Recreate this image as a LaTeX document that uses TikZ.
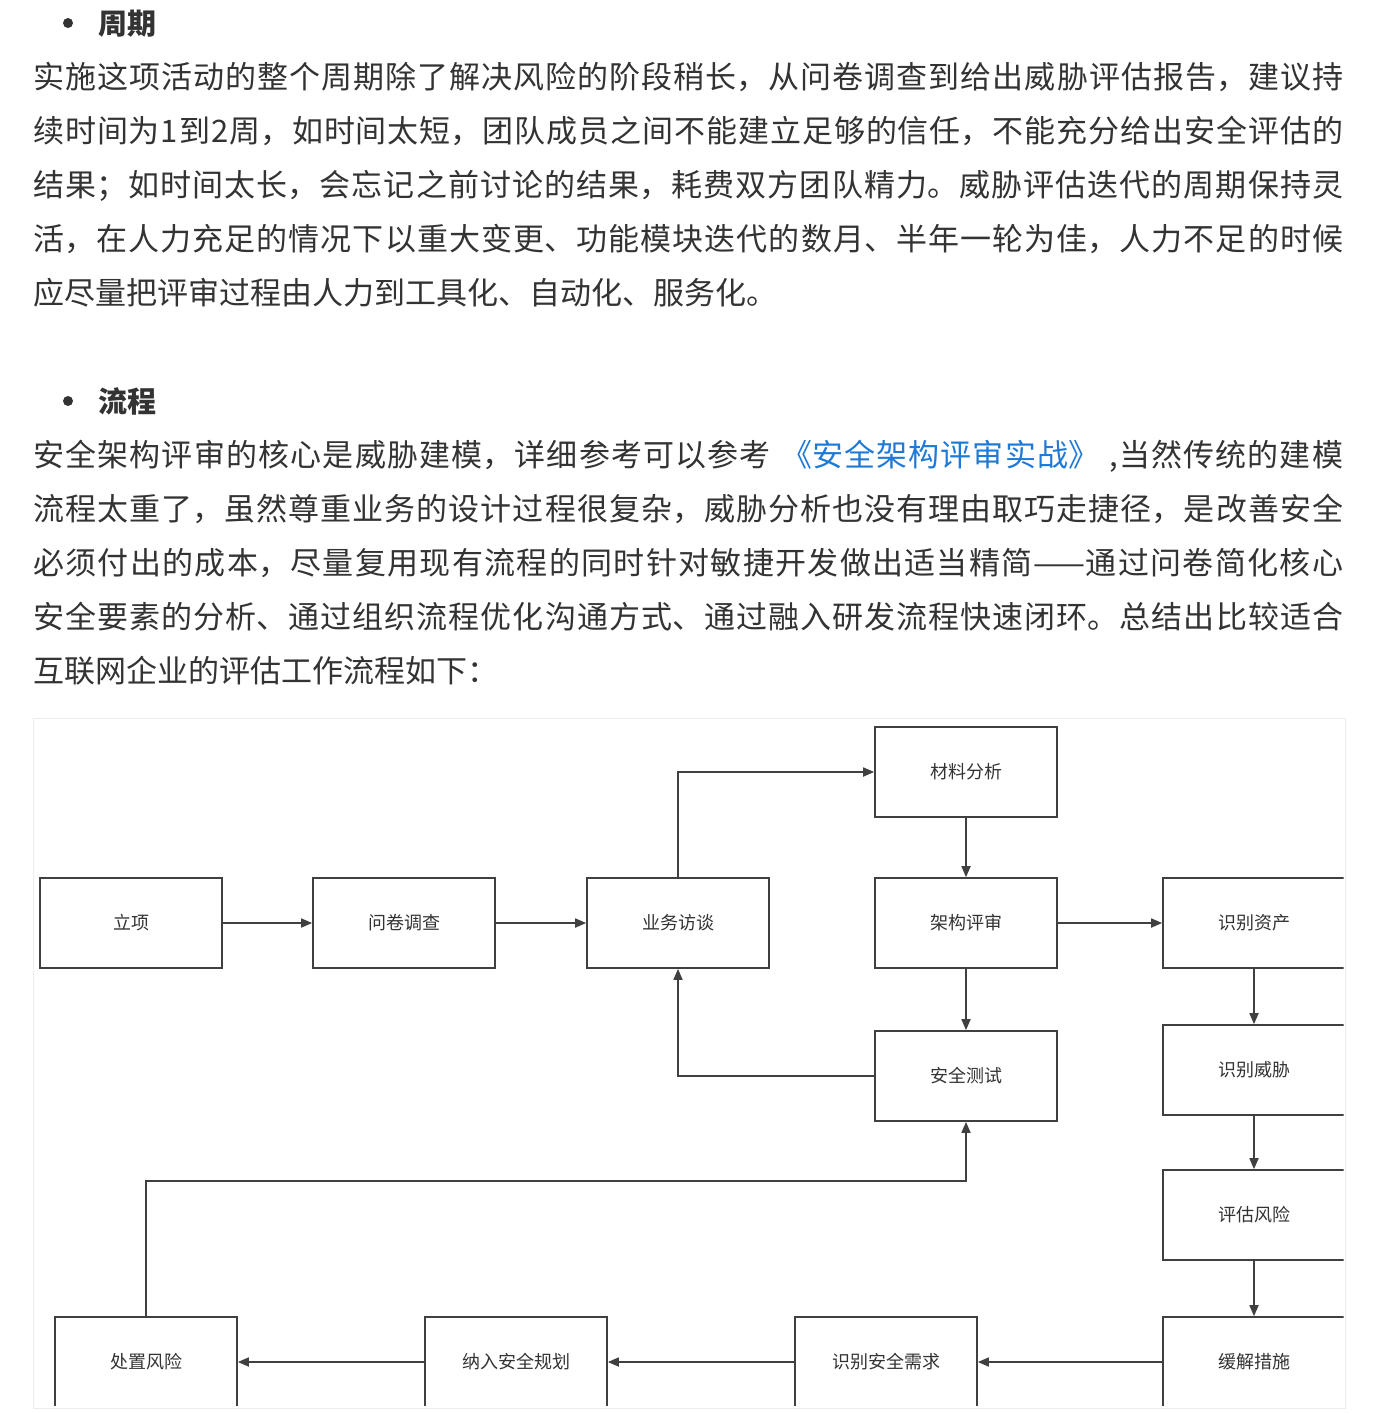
\documentclass[tikz,border=0pt]{standalone}
\usepackage{fontspec}
\setmainfont{Noto Sans CJK SC}
\XeTeXlinebreaklocale "zh"
\XeTeXlinebreakskip=0pt plus 6pt
\usetikzlibrary{arrows.meta}
\definecolor{txt}{HTML}{333333}
\definecolor{lnk}{HTML}{1E7AD6}
\definecolor{ln}{HTML}{404040}
\definecolor{frm}{HTML}{ECECEC}
\newcommand{\jline}[1]{\parbox[b]{1310pt}{\noindent\parfillskip=0pt\relax #1\par}}
\begin{document}
\begin{tikzpicture}[x=1pt,y=-1pt,
  box/.style={draw=ln, line width=1.7pt, minimum width=182pt, minimum height=90pt, inner sep=0pt, font=\fontsize{18}{21}\selectfont, text=txt},
  flow/.style={draw=ln, line width=1.7pt, -{Triangle[length=11pt,width=9pt]}},
  para/.style={anchor=base west, inner sep=0pt, font=\fontsize{31}{36}\selectfont, text=txt},
  head/.style={anchor=base west, inner sep=0pt, font=\fontsize{29}{34}\selectfont\bfseries, text=txt}]
\fill[white] (0,0) rectangle (1378,1414);
\useasboundingbox (0,0) rectangle (1378,1414);

% heading 1
\fill[txt] (68,23) circle (5);
\node[head] (h1) at (98,34) {周期};
\node[para] (p1a) at (33,88.5) {\jline{实施这项活动的整个周期除了解决风险的阶段稍长，从问卷调查到给出威胁评估报告，建议持}};
\node[para] (p1b) at (33,142.5) {\jline{续时间为1到2周，如时间太短，团队成员之间不能建立足够的信任，不能充分给出安全评估的}};
\node[para] (p1c) at (33,196.5) {\jline{结果；如时间太长，会忘记之前讨论的结果，耗费双方团队精力。威胁评估迭代的周期保持灵}};
\node[para] (p1d) at (33,250.5) {\jline{活，在人力充足的情况下以重大变更、功能模块迭代的数月、半年一轮为佳，人力不足的时候}};
\node[para] (p1e) at (33,304.5) {应尽量把评审过程由人力到工具化、自动化、服务化。};

% heading 2
\fill[txt] (68,401) circle (5);
\node[head] (h2) at (98,412) {流程};
\node[para] (p2a) at (33,466.5) {\jline{安全架构评审的核心是威胁建模，详细参考可以参考\hspace{10pt}\textcolor{lnk}{《安全架构评审实战》}\hspace{10pt},当然传统的建模}};
\node[para] (p2b) at (33,520.5) {\jline{流程太重了，虽然尊重业务的设计过程很复杂，威胁分析也没有理由取巧走捷径，是改善安全}};
\node[para] (p2c) at (33,574.5) {\jline{必须付出的成本，尽量复用现有流程的同时针对敏捷开发做出适当精简——通过问卷简化核心}};
\node[para] (p2d) at (33,628.5) {\jline{安全要素的分析、通过组织流程优化沟通方式、通过融入研发流程快速闭环。总结出比较适合}};
\node[para] (p2e) at (33,682.5) {互联网企业的评估工作流程如下：};

% diagram frame
\draw[frm, line width=1pt] (33,718) rectangle (1345,1408);
\begin{scope}
\clip (34,719) rectangle (1343.5,1405.5);
\node[box] (lx) at (131,923) {立项};
\node[box] (wj) at (404,923) {问卷调查};
\node[box] (yw) at (678,923) {业务访谈};
\node[box] (cl) at (966,772) {材料分析};
\node[box] (jg) at (966,923) {架构评审};
\node[box] (zc) at (1254,923) {识别资产};
\node[box] (cs) at (966,1076) {安全测试};
\node[box] (wx) at (1254,1070) {识别威胁};
\node[box] (pg) at (1254,1215) {评估风险};
\node[box] (hj) at (1254,1362) {缓解措施};
\node[box] (xq) at (886,1362) {识别安全需求};
\node[box] (gh) at (516,1362) {纳入安全规划};
\node[box] (cz) at (146,1362) {处置风险};
\coordinate (bend) at (966,1181);

\draw[flow] (lx) -- (wj);
\draw[flow] (wj) -- (yw);
\draw[flow] (yw.north) |- (cl.west);
\draw[flow] (cl) -- (jg);
\draw[flow] (jg) -- (zc);
\draw[flow] (jg) -- (cs);
\draw[flow] (cs.west) -| (yw.south);
\draw[flow] (zc) -- (wx);
\draw[flow] (wx) -- (pg);
\draw[flow] (pg) -- (hj);
\draw[flow] (hj) -- (xq);
\draw[flow] (xq) -- (gh);
\draw[flow] (gh) -- (cz);
\draw[flow] (cz.north) |- (bend) -- (cs.south);
\end{scope}
\end{tikzpicture}
\end{document}
